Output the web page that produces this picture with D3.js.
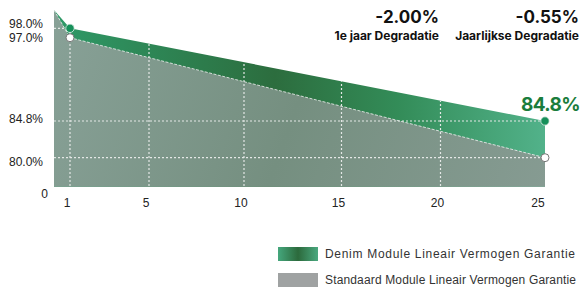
<!DOCTYPE html>
<html>
<head>
<meta charset="utf-8">
<script src="https://cdn.jsdelivr.net/npm/d3@7"></script>
<style>
body { margin: 0; background: #fff; }
svg { display: block; }
text { font-family: "Liberation Sans", Arial, sans-serif; }
.bold { font-family: Inter, "DejaVu Sans", sans-serif; font-weight: 700; }
</style>
</head>
<body>
<script>
// data
var years = [0, 1, 25];
var denim = [100, 98, 84.8];
var standard = [100, 97, 80];
var xTicks = [1, 5, 10, 15, 20, 25];
var yTicks = [98, 97, 84.8, 80, 0];
var yTickLabels = ["98.0%", "97.0%", "84.8%", "80.0%", "0"];
var yGrid = [98, 84.8, 80];
var xGrid = [1, 5, 10, 15, 20];
var legendLabels = ["Denim Module Lineair Vermogen Garantie", "Standaard Module Lineair Vermogen Garantie"];
var stats = [{v: "-2.00%", l: "1e jaar Degradatie"}, {v: "-0.55%", l: "Jaarlijkse Degradatie"}];

const width = 582, height = 290;

var svg = d3.select("body").append("svg")
    .attr("width", width)
    .attr("height", height);

// the picture is not linear, so piecewise scales
var x = d3.scaleLinear()
    .domain([0, 1, 5, 10, 15, 20, 25])
    .range([54, 70, 149, 244, 341.5, 440.5, 545]);
var y = d3.scaleLinear()
    .domain([0, 80, 84.8, 97, 98, 100])
    .range([186.7, 157.7, 121, 37.7, 28.3, 10]);

var defs = svg.append("defs");
var gGreen = defs.append("linearGradient").attr("id", "gGreen")
    .attr("gradientUnits", "userSpaceOnUse")
    .attr("x1", 54).attr("y1", 0).attr("x2", 545).attr("y2", 0);
gGreen.append("stop").attr("offset", "0%").attr("stop-color", "#2f9a68");
gGreen.append("stop").attr("offset", "45%").attr("stop-color", "#2c6d3e");
gGreen.append("stop").attr("offset", "70%").attr("stop-color", "#338c58");
gGreen.append("stop").attr("offset", "100%").attr("stop-color", "#52b28a");

var gGray = defs.append("linearGradient").attr("id", "gGray")
    .attr("gradientUnits", "userSpaceOnUse")
    .attr("x1", 54).attr("y1", 10).attr("x2", 545).attr("y2", 187);
gGray.append("stop").attr("offset", "0%").attr("stop-color", "#88a197");
gGray.append("stop").attr("offset", "50%").attr("stop-color", "#758f80");
gGray.append("stop").attr("offset", "100%").attr("stop-color", "#869b92");

var gLeg = defs.append("linearGradient").attr("id", "gLeg");
gLeg.append("stop").attr("offset", "0%").attr("stop-color", "#45a77d");
gLeg.append("stop").attr("offset", "50%").attr("stop-color", "#2c6a3c");
gLeg.append("stop").attr("offset", "100%").attr("stop-color", "#4aa87f");

var area = function (vals) {
    return d3.area()
        .x(function (d, i) { return x(years[i]); })
        .y0(y(0))
        .y1(function (d) { return y(d); })(vals);
};

defs.append("clipPath").attr("id", "clip")
    .append("path").attr("d", area(denim));

svg.append("path").attr("d", area(denim)).attr("fill", "url(#gGreen)");
svg.append("path").attr("d", area(standard)).attr("fill", "url(#gGray)");

// top edge of standard area
svg.append("path")
    .attr("d", d3.line().x(function (d, i) { return x(years[i]); }).y(function (d) { return y(d); })(standard))
    .attr("fill", "none")
    .attr("stroke", "#f2f2f2")
    .attr("stroke-width", 0.8)
    .attr("stroke-dasharray", "3,1.5");

var grid = svg.append("g").attr("clip-path", "url(#clip)")
    .attr("stroke", "#e4e8e6")
    .attr("stroke-width", 1.2)
    .attr("stroke-dasharray", "2,2");
grid.selectAll(".hg").data(yGrid).enter().append("line")
    .attr("x1", x(0)).attr("x2", x(25))
    .attr("y1", function (d) { return y(d); })
    .attr("y2", function (d) { return y(d); });
grid.selectAll(".vg").data(xGrid).enter().append("line")
    .attr("x1", function (d) { return x(d); })
    .attr("x2", function (d) { return x(d); })
    .attr("y1", 0).attr("y2", y(0));

// axes
var yNudge = {98: -5, 97: 0, 84.8: -2, 80: 4, 0: 7};
svg.selectAll(".yl").data(yTicks).enter().append("text")
    .attr("x", function (d) { return d === 0 ? 48 : 43; })
    .attr("y", function (d) { return y(d) + yNudge[d]; })
    .attr("dy", "0.35em")
    .attr("text-anchor", "end")
    .attr("font-size", 12)
    .attr("fill", "#222")
    .text(function (d, i) { return yTickLabels[i]; });

svg.selectAll(".xl").data(xTicks).enter().append("text")
    .attr("x", function (d) { return x(d) - (d === 25 ? 7 : 3); })
    .attr("y", 203)
    .attr("dy", "0.35em")
    .attr("text-anchor", "middle")
    .attr("font-size", 12)
    .attr("fill", "#222")
    .text(function (d) { return d; });

// points
var pts = [1, 2];
svg.selectAll(".ps").data(pts).enter().append("circle")
    .attr("cx", function (i) { return x(years[i]); })
    .attr("cy", function (i) { return y(standard[i]); })
    .attr("r", 4)
    .attr("fill", "#fff")
    .attr("stroke", "#777")
    .attr("stroke-width", 1);
svg.selectAll(".pd").data(pts).enter().append("circle")
    .attr("cx", function (i) { return x(years[i]); })
    .attr("cy", function (i) { return y(denim[i]); })
    .attr("r", 4.2)
    .attr("fill", "#16905a")
    .attr("stroke", "#e8f3ee")
    .attr("stroke-width", 0.8);

svg.append("text").attr("class", "bold")
    .attr("x", 580).attr("y", 111)
    .attr("text-anchor", "end")
    .attr("font-size", 19)
    .attr("letter-spacing", -0.6)
    .attr("fill", "#1a7d3c")
    .text(denim[2].toFixed(1) + "%");

// stats at the top
var sx = [439, 579];
stats.forEach(function (s, i) {
    svg.append("text").attr("class", "bold")
        .attr("x", sx[i]).attr("y", 23)
        .attr("text-anchor", "end")
        .attr("font-size", 17)
        .attr("fill", "#111")
        .text(s.v);
    svg.append("text").attr("class", "bold")
        .attr("x", sx[i]).attr("y", 40)
        .attr("text-anchor", "end")
        .attr("font-size", 12)
        .attr("fill", "#111")
        .text(s.l);
});

// legend
var leg = svg.selectAll(".leg").data(legendLabels).enter().append("g")
    .attr("transform", function (d, i) { return "translate(278," + (247 + i * 26) + ")"; });
leg.append("rect")
    .attr("width", 40).attr("height", 14)
    .attr("fill", function (d, i) { return i === 0 ? "url(#gLeg)" : "#9fa2a2"; });
leg.append("text")
    .attr("x", 47).attr("y", 7)
    .attr("dy", "0.35em")
    .attr("font-size", 12)
    .attr("fill", "#333")
    .attr("textLength", function (d, i) { return i === 0 ? 250 : 251; })
    .attr("lengthAdjust", "spacing")
    .text(function (d) { return d; });
</script>
</body>
</html>
